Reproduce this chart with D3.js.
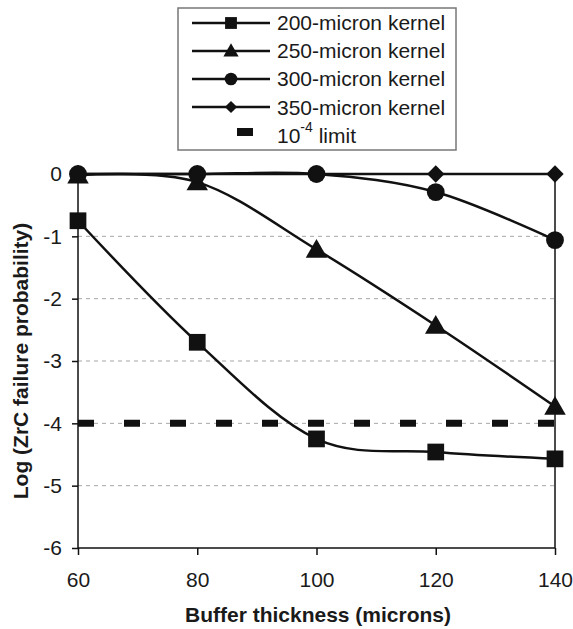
<!DOCTYPE html>
<html><head><meta charset="utf-8">
<script src="https://cdn.jsdelivr.net/npm/d3@7"></script>
<style>body{margin:0;background:#fff}svg{display:block;font-family:"Liberation Sans",Arial,sans-serif}</style>
</head><body>
<svg id="c" width="573" height="629"></svg>
<script>
const thickness = [60, 80, 100, 120, 140];
const k200 = [-0.75, -2.70, -4.25, -4.46, -4.57];
const k250 = [-0.02, -0.13, -1.21, -2.43, -3.73];
const k300 = [0, 0, 0, -0.29, -1.06];
const k350 = [0, 0, 0, 0, 0];
const limitValue = -4;
const yTicks = [0, -1, -2, -3, -4, -5, -6];
const xTicks = [60, 80, 100, 120, 140];
const seriesNames = ["200-micron kernel", "250-micron kernel", "300-micron kernel", "350-micron kernel"];
const seriesValues = [k200, k250, k300, k350];
const seriesSymbols = ["square", "triangle", "circle", "diamond"];

const FS = 21;
const svg = d3.select("#c");
const x = d3.scaleLinear().domain([60, 140]).range([78, 555]);
const y = d3.scaleLinear().domain([-6, 0]).range([548, 174]);

// gridlines
svg.append("g").selectAll("line").data([-1, -2, -3, -4, -5]).join("line")
  .attr("x1", x(60)).attr("x2", x(140)).attr("y1", d => y(d)).attr("y2", d => y(d))
  .attr("stroke", "#a6a6a6").attr("stroke-width", 1).attr("stroke-dasharray", "4,4");

// limit line
svg.append("line").attr("x1", x(60)).attr("x2", x(140)).attr("y1", y(limitValue)).attr("y2", y(limitValue))
  .attr("stroke", "#111").attr("stroke-width", 7).attr("stroke-dasharray", "16,30");

// plot border
svg.append("rect").attr("x", x(60)).attr("y", y(0)).attr("width", x(140) - x(60)).attr("height", y(-6) - y(0))
  .attr("fill", "none").attr("stroke", "#111").attr("stroke-width", 1.5);

// axes
const fmt = d => String(d);
const yAxis = d3.axisLeft(y).tickValues(yTicks).tickSize(6).tickPadding(10).tickFormat(fmt);
const gy = svg.append("g").attr("transform", `translate(${x(60)},0)`).call(yAxis);
gy.select(".domain").remove();
gy.selectAll("line").attr("stroke", "#111").attr("stroke-width", 1.5);
gy.selectAll("text").attr("font-size", FS).attr("fill", "#1a1a1a").attr("font-family", "Liberation Sans, Arial, sans-serif");

const xAxis = d3.axisBottom(x).tickValues(xTicks).tickSize(7).tickPadding(17).tickFormat(fmt);
const gx = svg.append("g").attr("transform", `translate(0,${y(-6)})`).call(xAxis);
gx.select(".domain").remove();
gx.selectAll("line").attr("stroke", "#111").attr("stroke-width", 1.5);
gx.selectAll("text").attr("font-size", FS).attr("fill", "#1a1a1a").attr("font-family", "Liberation Sans, Arial, sans-serif")
  .attr("dy", null).attr("y", 39);

// series
const symMap = {square: d3.symbolSquare, triangle: d3.symbolTriangle, circle: d3.symbolCircle, diamond: d3.symbolSquare};
const symSize = {square: 280, triangle: 200, circle: 250, diamond: 150};
const symRot = {square: 0, triangle: 0, circle: 0, diamond: 45};
const line = d3.line().x((d, i) => x(thickness[i])).y(d => y(d)).curve(d3.curveCardinal.tension(0));
seriesValues.forEach((vals) => {
  svg.append("path").datum(vals).attr("d", line).attr("fill", "none").attr("stroke", "#111").attr("stroke-width", 2.5);
});
seriesValues.forEach((vals, si) => {
  const s = seriesSymbols[si];
  svg.append("g").selectAll("path").data(vals).join("path")
    .attr("transform", (d, i) => `translate(${x(thickness[i])},${y(d) + (s === "triangle" ? 2 : 0)}) rotate(${symRot[s]})`)
    .attr("d", d3.symbol().type(symMap[s]).size(symSize[s]))
    .attr("fill", "#111");
});

// legend
const lg = svg.append("g");
lg.append("rect").attr("x", 178).attr("y", 8).attr("width", 278).attr("height", 142)
  .attr("fill", "#fff").attr("stroke", "#777").attr("stroke-width", 1.5);
const rowY = [23, 51, 79, 107];
const baseY = [30, 58, 86, 115];
seriesNames.forEach((name, i) => {
  lg.append("line").attr("x1", 192).attr("x2", 270).attr("y1", rowY[i]).attr("y2", rowY[i])
    .attr("stroke", "#111").attr("stroke-width", 2.5);
  const s = seriesSymbols[i];
  lg.append("path").attr("transform", `translate(231,${rowY[i] + (s === "triangle" ? 1 : 0)}) rotate(${symRot[s]})`)
    .attr("d", d3.symbol().type(symMap[s]).size(symSize[s] * 0.5)).attr("fill", "#111");
  lg.append("text").attr("x", 277).attr("y", baseY[i]).attr("font-size", FS).attr("fill", "#1a1a1a").text(name);
});
lg.append("line").attr("x1", 237).attr("x2", 253).attr("y1", 132).attr("y2", 132)
  .attr("stroke", "#111").attr("stroke-width", 8);
const lt = lg.append("text").attr("x", 277).attr("y", 143).attr("font-size", FS).attr("fill", "#1a1a1a");
lt.append("tspan").text("10");
lt.append("tspan").attr("font-size", 14).attr("dy", -11).text("-4");
lt.append("tspan").attr("dy", 11).text(" limit");

// axis titles
svg.append("text").attr("x", 318).attr("y", 622).attr("text-anchor", "middle")
  .attr("font-size", FS).attr("font-weight", "bold").attr("fill", "#1a1a1a").text("Buffer thickness (microns)");
svg.append("text").attr("transform", "translate(28,361) rotate(-90)").attr("text-anchor", "middle")
  .attr("font-size", FS).attr("font-weight", "bold").attr("fill", "#1a1a1a").text("Log (ZrC failure probability)");
</script>
</body></html>
